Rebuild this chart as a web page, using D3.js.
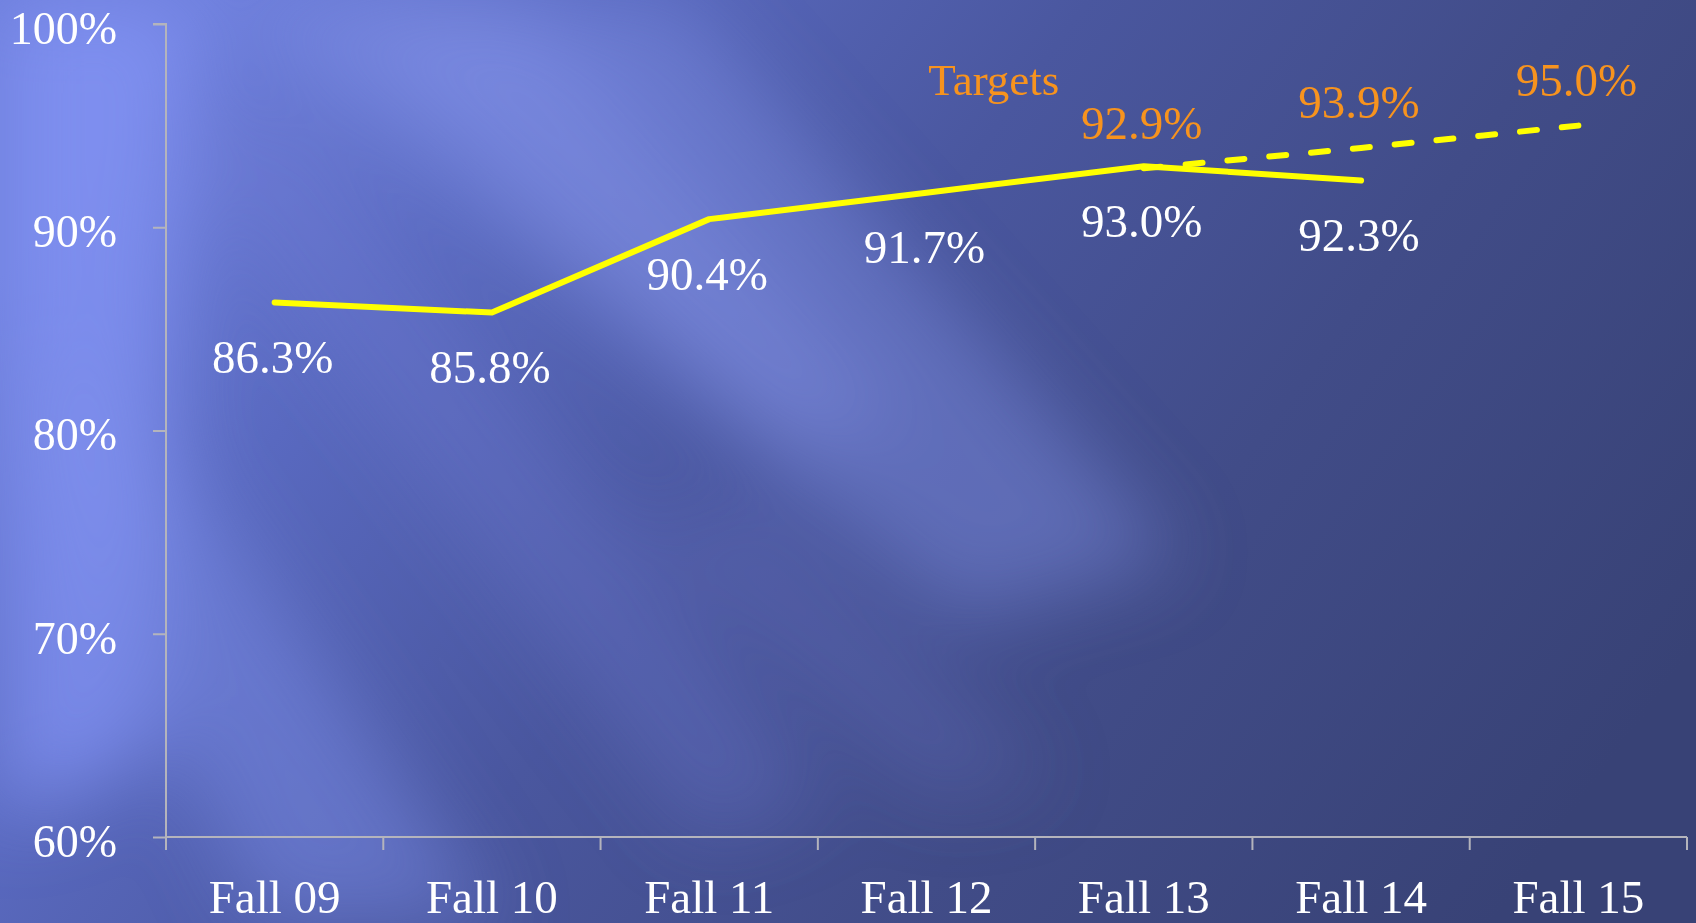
<!DOCTYPE html>
<html>
<head>
<meta charset="utf-8">
<script src="https://cdn.jsdelivr.net/npm/d3@7"></script>
<style>
html,body{margin:0;padding:0;overflow:hidden;background:#4a5699;}
svg{display:block;}
</style>
</head>
<body>
<svg id="chart" width="1696" height="923"></svg>
<script>
const categories = ["Fall 09","Fall 10","Fall 11","Fall 12","Fall 13","Fall 14","Fall 15"];
const actualCats = ["Fall 09","Fall 10","Fall 11","Fall 12","Fall 13","Fall 14"];
const actualValues = [86.3, 85.8, 90.4, 91.7, 93.0, 92.3];
const targetCats = ["Fall 13","Fall 14","Fall 15"];
const targetValues = [92.9, 93.9, 95.0];
const yTicks = [60, 70, 80, 90, 100];
const targetTitle = "Targets";

const W = 1696, H = 923;
const m = {left:166, right:9, top:24, bottom:86};
const svg = d3.select("#chart");
const defs = svg.append("defs");

// background
const lg = defs.append("linearGradient").attr("id","bg").attr("x1","0").attr("y1","0.3").attr("x2","1").attr("y2","0.7");
[[0,"#6e7fdc"],[0.2,"#5a6ac0"],[0.45,"#4a579f"],[0.7,"#414c88"],[1,"#384276"]].forEach(s=>lg.append("stop").attr("offset",s[0]).attr("stop-color",s[1]));
svg.append("rect").attr("width",W).attr("height",H).attr("fill","url(#bg)");
const f = defs.append("filter").attr("id","blur").attr("x","-50%").attr("y","-50%").attr("width","200%").attr("height","200%");
f.append("feGaussianBlur").attr("stdDeviation",40);
const rays = svg.append("g").attr("filter","url(#blur)");
const rayData = [
  {d:"M0,0 L190,0 L150,760 L0,820 Z", c:"#8495f6", o:0.7},
  {d:"M220,0 L680,0 L1180,560 L960,620 Z", c:"#8898f2", o:0.38},
  {d:"M330,0 L520,0 L900,420 L780,450 Z", c:"#93a2f4", o:0.25},
  {d:"M0,380 L110,360 L500,923 L260,923 Z", c:"#7f90ea", o:0.45},
  {d:"M150,120 L300,110 L820,800 L700,840 Z", c:"#6f7fd6", o:0.3},
  {d:"M620,520 L760,500 L1050,780 L930,800 Z", c:"#6a79cc", o:0.25}
];
rays.selectAll("path").data(rayData).enter().append("path")
  .attr("d",d=>d.d).attr("fill",d=>d.c).attr("opacity",d=>d.o);

const x = d3.scaleBand().domain(categories).range([m.left, W - m.right]);
const y = d3.scaleLinear().domain([60,100]).range([H - m.bottom, m.top]);
const cx = c => x(c) + x.bandwidth()/2;

const fontFam = "'Liberation Serif', serif";
const axisColor = "#b4b4bc";

// axes
const yAxis = svg.append("g").attr("transform",`translate(${m.left},0)`)
  .call(d3.axisLeft(y).tickValues(yTicks).tickSize(13).tickSizeOuter(0).tickFormat(d=>d+"%").tickPadding(36));
const xAxis = svg.append("g").attr("transform",`translate(0,${H - m.bottom})`)
  .call(d3.axisBottom(x).tickSize(0).tickFormat(""));
xAxis.selectAll(".tick").remove();
const bounds = categories.map(c=>x(c)).concat([x(categories[categories.length-1]) + x.bandwidth()]);
xAxis.selectAll("line.b").data(bounds).enter().append("line").attr("class","b")
  .attr("x1",d=>d).attr("x2",d=>d).attr("y1",0).attr("y2",13);
xAxis.selectAll("text.cat").data(categories).enter().append("text").attr("class","cat")
  .attr("x",d=>cx(d)).attr("y",60).attr("dy","0.35em").attr("text-anchor","middle").text(d=>d);

[yAxis, xAxis].forEach(g=>{
  g.selectAll("path.domain").attr("stroke",axisColor).attr("stroke-width",2).attr("fill","none");
  g.selectAll("line").attr("stroke",axisColor).attr("stroke-width",2);
  g.selectAll("text").attr("fill","#ffffff").attr("font-family",fontFam).attr("font-size",46);
});
xAxis.selectAll("text").attr("font-size",47);
yAxis.selectAll("text").attr("dy","0.42em");
xAxis.select("path.domain").attr("d",`M${m.left},0H${W-m.right}`);
yAxis.select("path.domain").attr("d",`M-13,${m.top}H0V${H-m.bottom}`);

// lines
const actual = actualCats.map((c,i)=>({c, v:actualValues[i]}));
const target = targetCats.map((c,i)=>({c, v:targetValues[i]}));
const line = d3.line().x(d=>cx(d.c)).y(d=>y(d.v));

svg.append("path").datum(target).attr("d",line).attr("fill","none")
  .attr("stroke","#ffff00").attr("stroke-width",6).attr("stroke-dasharray","17,25").attr("stroke-linecap","round");
svg.append("path").datum(actual).attr("d",line).attr("fill","none")
  .attr("stroke","#ffff00").attr("stroke-width",6).attr("stroke-linecap","round").attr("stroke-linejoin","round");

// labels
svg.append("g").selectAll("text").data(actual).enter().append("text")
  .attr("x",d=>cx(d.c)-2).attr("y",d=>y(d.v)+54).attr("dy","0.35em").attr("text-anchor","middle")
  .attr("fill","#ffffff").attr("font-family",fontFam).attr("font-size",47)
  .text(d=>d.v.toFixed(1)+"%");
svg.append("g").selectAll("text").data(target).enter().append("text")
  .attr("x",d=>cx(d.c)-2).attr("y",d=>y(d.v)-46).attr("dy","0.35em").attr("text-anchor","middle")
  .attr("fill","#f7931e").attr("font-family",fontFam).attr("font-size",47)
  .text(d=>d.v.toFixed(1)+"%");
svg.append("text").attr("x",x("Fall 12")+x.bandwidth()*0.81).attr("y",y(100)+55).attr("dy","0.35em")
  .attr("text-anchor","middle").attr("fill","#f7931e").attr("font-family",fontFam).attr("font-size",45)
  .text(targetTitle);
</script>
</body>
</html>
